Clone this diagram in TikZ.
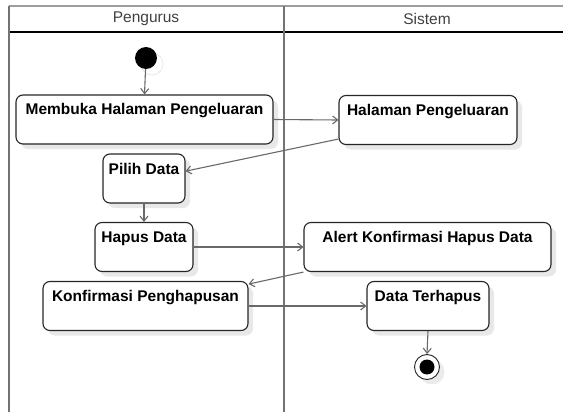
\documentclass[tikz,border=0pt]{standalone}
\usepackage{fontspec}
\setmainfont{Liberation Sans}
\usetikzlibrary{arrows.meta, shadows}
\definecolor{lanegray}{RGB}{115,115,115}
\definecolor{flowgray}{RGB}{105,105,105}
\tikzset{>={Straight Barb[length=5pt,width=8pt]}}
\tikzset{
  act/.style={draw=black!85, line width=1.1pt, rounded corners=7pt, fill=white,
    font=\fontsize{15.5}{18}\bfseries, inner sep=3pt, text height=17pt, text depth=26pt,
    drop shadow={shadow xshift=5pt, shadow yshift=-5pt, fill=black!9, opacity=1}},
  flow/.style={->, draw=flowgray, line width=1.1pt},
  lane/.style={draw=lanegray, line width=1.6pt},
  lanehead/.style={font=\fontsize{15.5}{18}\selectfont, text=black!75}
}

\begin{document}
\begin{tikzpicture}[x=1pt,y=-1pt]
\useasboundingbox (0,0) rectangle (563,412);
% swimlanes
\draw[lane, draw=lanegray!70] (9,6) -- (563,6);
\draw[line width=1.4pt] (9,32) -- (563,32);
\draw[lane, line width=2.6pt] (9,6) -- (9,412);
\draw[lane] (284,6) -- (284,412);
\node[lanehead] (pengurus) at (146,19) {Pengurus};
\node[lanehead] (sistem) at (427,19) {Sistem};

% start and end
\node[circle, fill=black, minimum size=22pt, inner sep=0pt,
  drop shadow={shadow xshift=6pt, shadow yshift=-6pt, fill=white, draw=black!15, opacity=1}]
  (start) at (146,58) {};
\node[circle, draw=black!85, fill=white, line width=0.9pt, minimum size=25pt, inner sep=0pt,
  path picture={\fill[black] (path picture bounding box.center) circle (7.5pt);},
  drop shadow={shadow xshift=5pt, shadow yshift=-5pt, fill=black!8, opacity=1}]
  (finish) at (427,367) {};

% activities
\node[act, minimum width=257pt] (buka) at (144.5,119.5) {Membuka Halaman Pengeluaran};
\node[act, minimum width=178pt] (halaman) at (428,120) {Halaman Pengeluaran};
\node[act, minimum width=82pt] (pilih) at (144,178.5) {Pilih Data};
\node[act, minimum width=98pt] (hapus) at (144,247) {Hapus Data};
\node[act, minimum width=247pt] (alert) at (427.5,247) {Alert Konfirmasi Hapus Data};
\node[act, minimum width=205pt] (konfirmasi) at (145.5,306) {Konfirmasi Penghapusan};
\node[act, minimum width=122pt] (terhapus) at (428,306) {Data Terhapus};

% flows
\draw[flow] (start) -- (buka.north);
\draw[flow] (buka.east) -- (halaman.west);
\draw[flow] (halaman.192) -- (pilih.10);
\draw[flow] (pilih.south) -- (hapus.north);
\draw[flow] (hapus.east) -- (alert.west);
\draw[flow] (alert.south west) -- (konfirmasi.12);
\draw[flow] (konfirmasi.east) -- (terhapus.west);
\draw[flow] (terhapus.south) -- (finish.north);
\end{tikzpicture}
\end{document}
